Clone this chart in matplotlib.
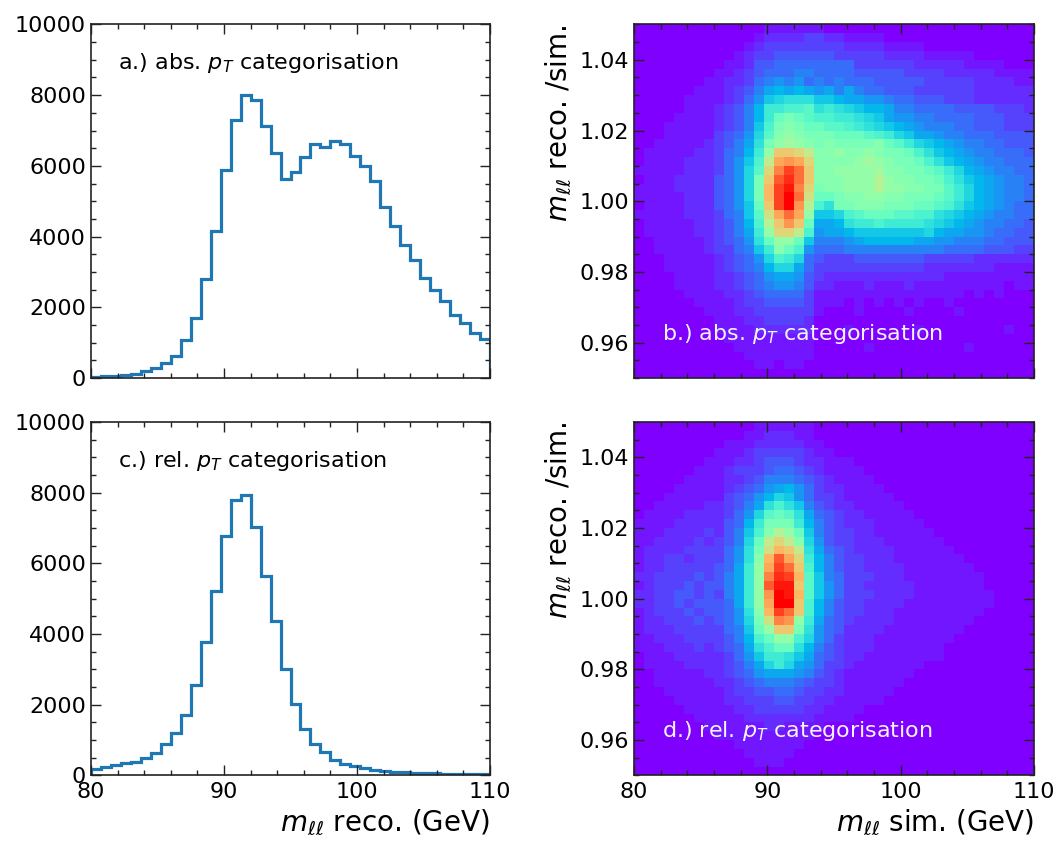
import numpy as np
import matplotlib.pyplot as plt
from matplotlib.ticker import MultipleLocator, FormatStrFormatter

# 40 bins of 0.75 GeV in m_ll, 40 bins of 0.0025 in reco/sim
mass_edges = np.linspace(80, 110, 41)
ratio_edges = np.linspace(0.95, 1.05, 41)

# m_ll reco. yields per bin
abs_counts = [30, 50, 65, 95, 120, 190, 275, 425, 615, 1090,
              1690, 2800, 4160, 5870, 7300, 8000, 7850, 7130, 6370, 5630,
              5820, 6250, 6620, 6540, 6700, 6620, 6270, 6010, 5580, 4850,
              4300, 3770, 3330, 2830, 2490, 2170, 1780, 1570, 1260, 1110]
rel_counts = [190, 237, 294, 350, 389, 483, 635, 882, 1213, 1716,
              2550, 3763, 5213, 6768, 7792, 7925, 7015, 5640, 4370, 3014,
              2010, 1308, 900, 654, 445, 332, 256, 200, 160, 123,
              104, 85, 75, 66, 57, 50, 45, 40, 35, 30]

# 2D occupancy, one character per cell on a 0-35 scale (0-9 then a-z),
# rows go from ratio 1.05 (top) down to 0.95, columns from 80 to 110 GeV
LEVELS = "0123456789abcdefghijklmnopqrstuvwxyz"

abs_map_rows = [
    "0000000000000111111000000000000000000000",
    "0000000000001222233221111000000000000000",
    "0000000000012333333332222111100000000000",
    "0000000000123344444433333222211111000000",
    "0000000001124455555555333333222221111000",
    "0000000011234555665555444443333222221111",
    "0000000112235676756565554444433333222211",
    "0000001112346898987868655444333333222222",
    "0000011112357abcccaa98877655444333222222",
    "0000011123469ddeefcdcba99866555544443332",
    "0000111123469dghgfeeddcba877665555444333",
    "000111112346aehihggffedcba98766655444333",
    "000111113457bfijihhhgggfedba887665554444",
    "001111123468chjkjihihhhhigfdba9876655444",
    "011111223569djppomiijiijihhgeca987665554",
    "01111222357aemrsroiiiijkjihhgeca98766555",
    "11111222357bfotwupiijjjjkiihhgfdb9876655",
    "01112222457bhpvxupiiijjjljiihhgeca987665",
    "11112222457bhqwytohiijjjljjiihhfdb987665",
    "11111222457bhqwzungghiijjiihhhgfdb987665",
    "01111222457agpwzslechhiiihhhggfeca987655",
    "11111222356afnrurjaabefgggffeecba9876655",
    "011111223469elpspg889cddeddddcba98766554",
    "011111223468djoome7889aaaaaaab9887765544",
    "001111123457cgjjga6667899999887766655444",
    "001111123356adige75556666666666555544433",
    "0001111123457bedb54333444444433333222222",
    "00011111234569bb853333333333322222221111",
    "0000111122345788743222222222222111111111",
    "0000111122345677642211121112111111111011",
    "0000011112234555531111111111111110101000",
    "0000001111233444431110101010100100000000",
    "0000000111223333331000100001000010000000",
    "0000000011122333320000000000000000000000",
    "0000000011112222220001000000100000000100",
    "0000000001111111110000000000000000000000",
    "0000000000111111110000010000000001000000",
    "0000000000011111110000000000000000000000",
    "0000000000001101100000000000000000000000",
    "0000000000000000000000000000000000000000",
]

rel_map_rows = [
    "0000000000001111110000000000000000000000",
    "0000000000011222110000000000000000000000",
    "0000000001112222211000000000000000000000",
    "0000000011123333321100000000000000000000",
    "0000000111223444322111000000000000000000",
    "0000001112333455432111100000000000000000",
    "0000011112234666543211110000000000000000",
    "0000111112345789753221111000000000000000",
    "00011111134579ba753321111100000000000000",
    "0011111223468ceca64322111110000000000000",
    "011112222357bfgfc85432211111000000000000",
    "111122222459dhhhd96432221111100000000000",
    "11122223246aeiljga6433221111110000000000",
    "11222232346bgmomib7433222111111000000000",
    "12222333357chnqpmc8543222211111100000000",
    "12233233357ciqvrod9643322211111110000000",
    "12233333458djrwupe9643322221111111000000",
    "22333343468djtxwqfa653332221111111100000",
    "12333434468djvyypfa753322222111111100000",
    "22334434368djszyqfa753332222111111110000",
    "22334344458djrzzpe9643322221111111110000",
    "12333434457ciqwupe9643322211111111100000",
    "12233343457bhntsjd8543222211111111000000",
    "12223333356agjpphc7542222111111110000000",
    "112223333469egjjeb7532221111111100000000",
    "111222323458ceggc96432221111111000000000",
    "011122222357addca85432211111111000000000",
    "0111122223468bdb875332111111100000000000",
    "0011111223457888764321111111000000000000",
    "0011111122345666543321111110000000000000",
    "0001111112334455433221111100000000000000",
    "0000111112233344332211111000000000000000",
    "0000011111223333322111100000000000000000",
    "0000001111122222221111000000000000000000",
    "0000000111111221111000000000000000000000",
    "0000000011111111110000000000000000000000",
    "0000000000111111100000000000000000000000",
    "0000000000011111000000000000000000000000",
    "0000000000001110000000000000000000000000",
    "0000000000000000000000000000000000000000",
]


def decode(rows):
    grid = np.array([[LEVELS.index(ch) for ch in row] for row in rows], dtype=float)
    return grid[::-1]


def style_axes(ax):
    ax.tick_params(which='both', direction='in', top=True, right=True,
                   labelsize=16, color='#222222')
    ax.tick_params(which='major', length=7, width=1.0)
    ax.tick_params(which='minor', length=3.5, width=1.0)
    ax.tick_params(axis='x', pad=5)
    ax.xaxis.set_major_locator(MultipleLocator(10))
    ax.xaxis.set_minor_locator(MultipleLocator(2))
    for sp in ax.spines.values():
        sp.set_linewidth(1.2)
        sp.set_color('#222222')
    ax.set_xlim(80, 110)


fig = plt.figure(figsize=(10.61, 8.42), dpi=100)

ax_a = fig.add_axes([0.0858, 0.551, 0.376, 0.420])
ax_c = fig.add_axes([0.0858, 0.079, 0.376, 0.420])
ax_b = fig.add_axes([0.5976, 0.551, 0.377, 0.420])
ax_d = fig.add_axes([0.5976, 0.079, 0.377, 0.420])

# 1D reco mass histograms
for ax, counts, tag in [(ax_a, abs_counts, 'a.) abs.'), (ax_c, rel_counts, 'c.) rel.')]:
    ax.stairs(counts, mass_edges, color='#1f77b4', linewidth=2.3)
    style_axes(ax)
    ax.set_ylim(0, 10000)
    ax.yaxis.set_major_locator(MultipleLocator(2000))
    ax.yaxis.set_minor_locator(MultipleLocator(500))
    ax.text(0.068, 0.89, tag + r' $p_T$ categorisation', transform=ax.transAxes,
            fontsize=16, va='center', ha='left')

# 2D reco/sim vs sim mass
for ax, rows, tag in [(ax_b, abs_map_rows, 'b.) abs.'), (ax_d, rel_map_rows, 'd.) rel.')]:
    ax.pcolormesh(mass_edges, ratio_edges, decode(rows), cmap='rainbow',
                  vmin=0, vmax=35, shading='flat')
    style_axes(ax)
    ax.set_ylim(0.95, 1.05)
    ax.yaxis.set_major_locator(MultipleLocator(0.02))
    ax.yaxis.set_minor_locator(MultipleLocator(0.005))
    ax.yaxis.set_major_formatter(FormatStrFormatter('%.2f'))
    ax.set_ylabel(r'$m_{\ell\ell}$ reco. /sim.', fontsize=20, loc='top')
    ax.text(0.07, 0.125, tag + r' $p_T$ categorisation', transform=ax.transAxes,
            fontsize=16, va='center', ha='left', color='#f4f4f4')

ax_a.tick_params(labelbottom=False)
ax_b.tick_params(labelbottom=False)
ax_c.set_xlabel(r'$m_{\ell\ell}$ reco. (GeV)', fontsize=20, loc='right')
ax_d.set_xlabel(r'$m_{\ell\ell}$ sim. (GeV)', fontsize=20, loc='right')

fig.savefig('out.png', dpi=100)
